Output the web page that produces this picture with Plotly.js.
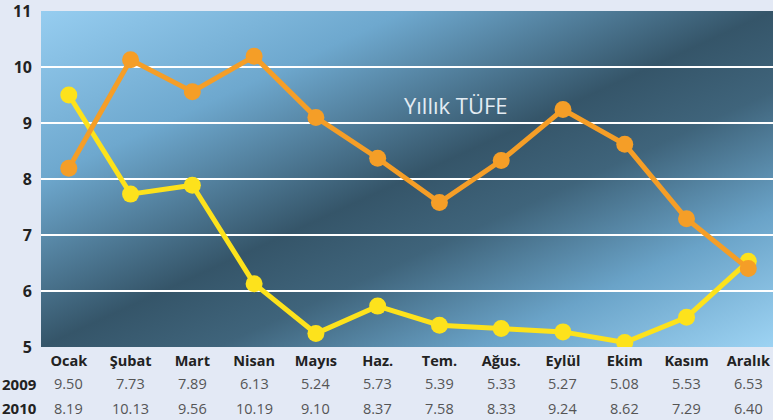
<!DOCTYPE html>
<html><head><meta charset="utf-8">
<script src="https://cdn.plot.ly/plotly-3.0.1.min.js"></script>
<style>html,body{margin:0;padding:0;background:#e3e9f5;}#chart{width:773px;height:420px;}</style>
</head><body><div id="chart"></div>
<script>
const months = ["Ocak","Şubat","Mart","Nisan","Mayıs","Haz.","Tem.","Ağus.","Eylül","Ekim","Kasım","Aralık"];
const series2009 = [9.50,7.73,7.89,6.13,5.24,5.73,5.39,5.33,5.27,5.08,5.53,6.53];
const series2010 = [8.19,10.13,9.56,10.19,9.10,8.37,7.58,8.33,9.24,8.62,7.29,6.40];
const yTicks = [5,6,7,8,9,10,11];
const rowLabels = ["2009","2010"];

const idx = months.map((m,i)=>i);
const svg = '<svg xmlns="http://www.w3.org/2000/svg" width="732" height="336" preserveAspectRatio="none" viewBox="0 0 732 336">'+
 '<defs><linearGradient id="g" x1="0" y1="0" x2="1" y2="1">'+
 '<stop offset="0" stop-color="#96cdf0"/><stop offset="0.25" stop-color="#6ea8ce"/>'+
 '<stop offset="0.5" stop-color="#355569"/><stop offset="0.62" stop-color="#3f647b"/>'+
 '<stop offset="0.8" stop-color="#6aa3c8"/><stop offset="1" stop-color="#9dd3f3"/>'+
 '</linearGradient></defs><rect width="732" height="336" fill="url(#g)"/></svg>';
const bg = 'data:image/svg+xml;charset=utf-8,' + encodeURIComponent(svg);

const traces = [
 {x: idx, y: series2009, type:'scatter', mode:'lines+markers', name:'2009',
  line:{color:'#fde21c', width:5}, marker:{color:'#fde21c', size:17}},
 {x: idx, y: series2010, type:'scatter', mode:'lines+markers', name:'2010',
  line:{color:'#f59e27', width:5}, marker:{color:'#f59e27', size:17}}
];

const tickFont = {family:'Open Sans, DejaVu Sans', size:16, color:'#222', weight:700};
const annotations = [];
// top y tick label (at the range edge)
annotations.push({xref:'paper', yref:'y', x:0, y:yTicks[yTicks.length-1], xshift:-8, text:String(yTicks[yTicks.length-1]),
  showarrow:false, xanchor:'right', yanchor:'middle', font:tickFont});
[series2009, series2010].forEach((s, r) => {
  const yp = r === 0 ? -0.110 : -0.182;
  annotations.push({xref:'paper', yref:'paper', x:-0.029, y:yp, text:rowLabels[r], showarrow:false,
    xanchor:'center', yanchor:'middle', font:{family:'Open Sans, DejaVu Sans', size:15, color:'#222', weight:700}});
  s.forEach((v,i)=>{
    annotations.push({xref:'x', yref:'paper', x:i, y:yp, text:v.toFixed(2), showarrow:false,
      xanchor:'center', yanchor:'middle', font:{family:'Open Sans, DejaVu Sans', size:14.5, color:'#555'}});
  });
});
annotations.push({xref:'paper', yref:'paper', x:0.567, y:0.72, text:'Yıllık TÜFE', showarrow:false,
  xanchor:'center', yanchor:'middle', font:{family:'Open Sans, Noto Sans', size:22, color:'#e4ecf3'}});

const layout = {
  width:773, height:420,
  margin:{l:41, r:0, t:11, b:73},
  paper_bgcolor:'#e3e9f5', plot_bgcolor:'rgba(0,0,0,0)',
  showlegend:false,
  images:[{source:bg, xref:'paper', yref:'paper', x:0, y:1, sizex:1, sizey:1,
    sizing:'stretch', layer:'below', xanchor:'left', yanchor:'top'}],
  xaxis:{range:[-0.45,11.4], tickvals:idx, ticktext:months, showgrid:false, zeroline:false,
    showline:false, ticks:'', fixedrange:true, ticklabelstandoff:3,
    tickfont:{family:'Open Sans, DejaVu Sans', size:14.5, color:'#222', weight:700}},
  yaxis:{range:[5,11], tickvals:yTicks, showgrid:true, gridcolor:'#ffffff', gridwidth:2,
    zeroline:false, showline:false, ticks:'', ticklabelstandoff:8,
    tickfont:tickFont},
  annotations: annotations
};
Plotly.newPlot('chart', traces, layout, {displayModeBar:false, staticPlot:true});
</script></body></html>
